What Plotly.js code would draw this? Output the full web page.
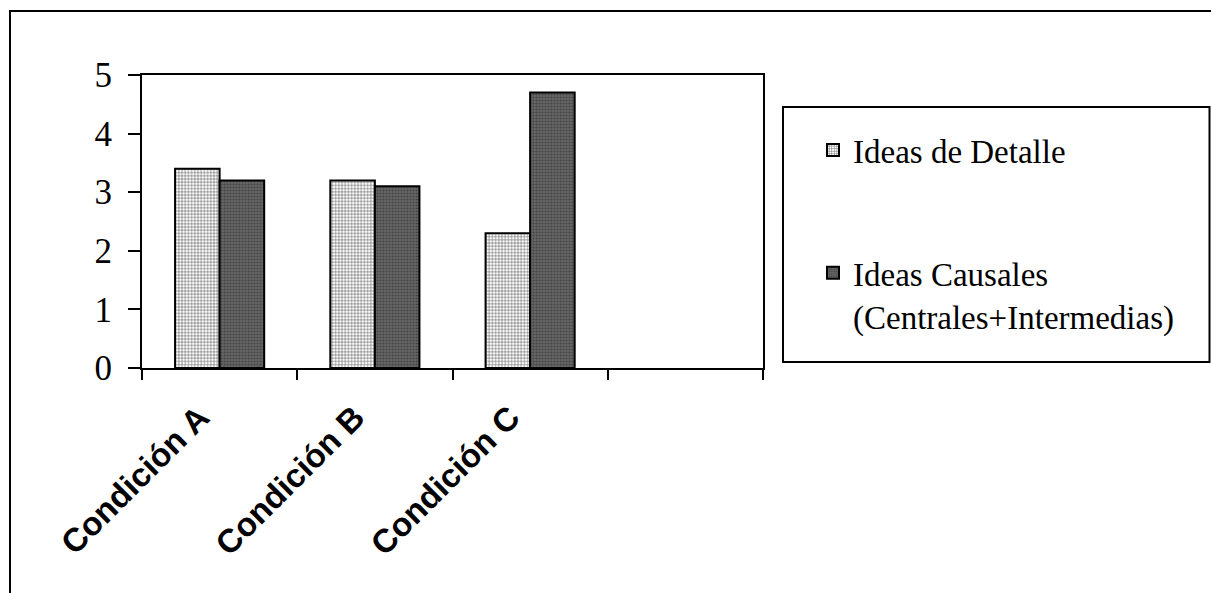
<!DOCTYPE html>
<html>
<head>
<meta charset="utf-8">
<script src="https://cdn.plot.ly/plotly-3.0.1.min.js"></script>
<style>html,body{margin:0;padding:0;background:#fff;}#chart{width:1211px;height:593px;}</style>
</head>
<body>
<div id="chart"></div>
<script>
const categories = ['Condición A', 'Condición B', 'Condición C', ' '];
const ideasDetalle = [3.4, 3.2, 2.3, null];
const ideasCausales = [3.2, 3.1, 4.7, null];
const seriesNames = ['Ideas de Detalle', 'Ideas Causales<br>(Centrales+Intermedias)'];
const yTicks = [0, 1, 2, 3, 4, 5];

const L = 142, R = 448, T = 75, B = 225, W = 1211, H = 593;
const pw = W - L - R, ph = H - T - B;
const px = x => (x - L) / pw;
const py = y => (H - B - y) / ph;

const traces = [
  {
    type: 'bar', x: categories, y: ideasDetalle, name: seriesNames[0], legendgroup: 'a',
    marker: {
      color: '#ffffff',
      line: {color: '#000', width: 2},
      pattern: {shape: '+', fgcolor: '#505050', bgcolor: '#ffffff', size: 3.2, solidity: 0.3}
    },
    hoverinfo: 'none'
  },
  {
    type: 'bar', x: categories, y: ideasCausales, name: seriesNames[1], legendgroup: 'b',
    marker: {
      color: '#5a5a5a',
      line: {color: '#000', width: 2},
      pattern: {shape: '.', fgcolor: '#444444', bgcolor: '#666666', size: 3, solidity: 0.4}
    },
    hoverinfo: 'none'
  }
];

const layout = {
  width: W, height: H,
  margin: {l: L, r: R, t: T, b: B, pad: 0},
  paper_bgcolor: '#fff', plot_bgcolor: '#fff',
  barmode: 'group', bargap: 0.426, bargroupgap: 0,
  showlegend: true,
  legend: {
    x: px(813), y: py(122), xanchor: 'left', yanchor: 'top',
    font: {family: 'Liberation Serif, Times New Roman, serif', size: 33, color: '#000'},
    traceorder: 'grouped', tracegroupgap: 77, valign: 'top',
    bgcolor: 'rgba(0,0,0,0)', borderwidth: 0
  },
  xaxis: {
    type: 'category', categoryorder: 'array', categoryarray: categories,
    range: [-0.5, 3.5], fixedrange: true,
    showline: true, linecolor: '#000', linewidth: 2, mirror: true,
    ticks: 'outside', tickson: 'boundaries', ticklen: 10, tickwidth: 2, tickcolor: '#000',
    tickangle: -45, showgrid: false, zeroline: false,
    ticklabelstandoff: 15, ticklabelshift: -20,
    tickfont: {family: 'Liberation Sans, Arial, sans-serif', size: 33, weight: 'bold', color: '#000'}
  },
  yaxis: {
    range: [0, 5], tickvals: yTicks, ticktext: yTicks.map(String), fixedrange: true,
    showline: true, linecolor: '#000', linewidth: 2, mirror: true,
    ticks: 'outside', ticklen: 12, tickwidth: 2, tickcolor: '#000',
    ticklabelstandoff: 9,
    showgrid: false, zeroline: false,
    tickfont: {family: 'Liberation Serif, Times New Roman, serif', size: 35, color: '#000'}
  },
  shapes: [
    {type: 'rect', xref: 'paper', yref: 'paper', x0: px(10), x1: px(1300), y0: py(700), y1: py(11),
     line: {color: '#000', width: 2}, fillcolor: 'rgba(0,0,0,0)', layer: 'above'},
    {type: 'rect', xref: 'paper', yref: 'paper', x0: px(783), x1: px(1209.5), y0: py(362), y1: py(107),
     line: {color: '#000', width: 2}, fillcolor: 'rgba(0,0,0,0)', layer: 'above'}
  ]
};

Plotly.newPlot('chart', traces, layout, {staticPlot: true, displayModeBar: false});
</script>
</body>
</html>
